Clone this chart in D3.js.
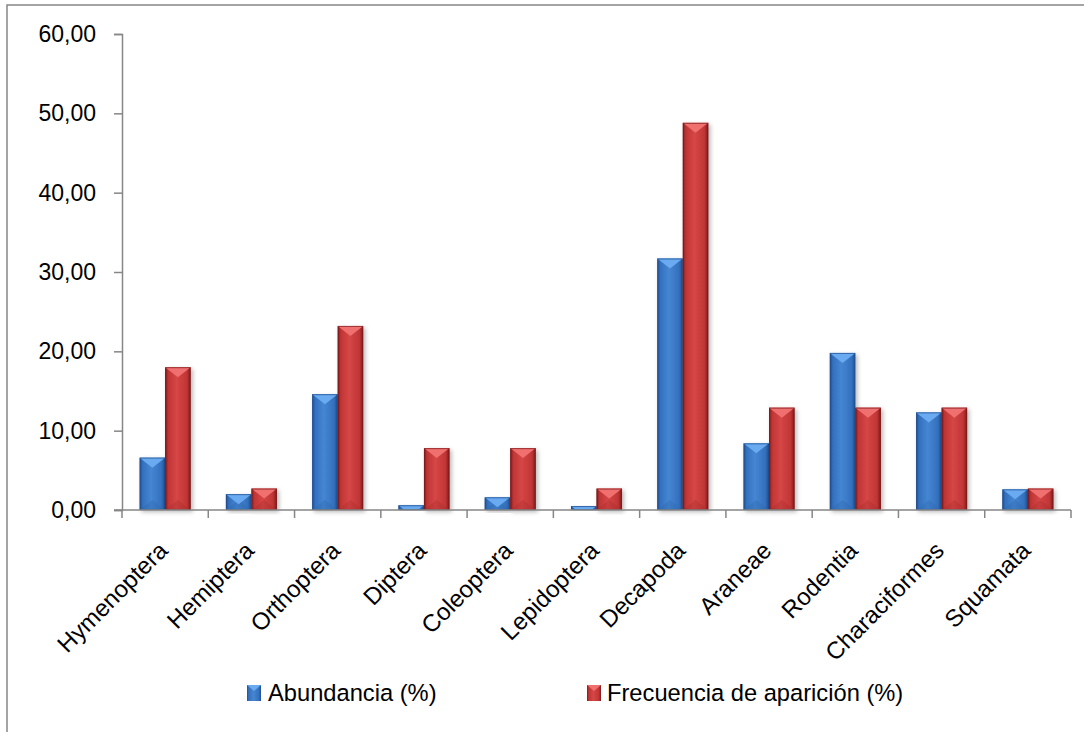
<!DOCTYPE html>
<html>
<head>
<meta charset="utf-8">
<script src="https://cdn.jsdelivr.net/npm/d3@7"></script>
<style>
  html, body { margin: 0; padding: 0; background: #fff; }
  svg { display: block; }
</style>
</head>
<body>
<svg id="chart" width="1084" height="732"></svg>
<script>
const categories = ["Hymenoptera", "Hemiptera", "Orthoptera", "Diptera", "Coleoptera", "Lepidoptera", "Decapoda", "Araneae", "Rodentia", "Characiformes", "Squamata"];
const abundancia = [6.6, 2.0, 14.6, 0.6, 1.6, 0.5, 31.7, 8.4, 19.8, 12.3, 2.6];
const frecuencia = [18.0, 2.7, 23.2, 7.8, 7.8, 2.7, 48.8, 12.9, 12.9, 12.9, 2.7];
const seriesNames = ["Abundancia (%)", "Frecuencia de aparición (%)"];
const yTicks = [0, 10, 20, 30, 40, 50, 60];

const svg = d3.select("#chart");
const W = 1084, H = 732;
const plot = { left: 122, right: 1071, top: 34, bottom: 510 };

const defs = svg.append("defs");
const palettes = [
  { dark: "#1f4f8f", mid: "#3470bd", light: "#4586d3", bevel: "#69aaf0", bottom: "#2f66ad" },
  { dark: "#7a1a1a", mid: "#c03535", light: "#d64646", bevel: "#f07070", bottom: "#a82c2c" }
];
palettes.forEach((p, i) => {
  const g = defs.append("linearGradient").attr("id", "grad" + i)
    .attr("x1", "0%").attr("x2", "100%").attr("y1", "0%").attr("y2", "0%");
  [[0, p.dark], [0.12, p.mid], [0.45, p.light], [0.85, p.mid], [1, p.dark]].forEach(([o, c]) =>
    g.append("stop").attr("offset", o).attr("stop-color", c));
});
const f = defs.append("filter").attr("id", "shadow").attr("x", "-30%").attr("y", "-10%").attr("width", "160%").attr("height", "130%");
f.append("feDropShadow").attr("dx", 2).attr("dy", 2).attr("stdDeviation", 2.2)
  .attr("flood-color", "#000").attr("flood-opacity", 0.28);

// outer frame
svg.append("rect").attr("x", 7).attr("y", 5).attr("width", W + 20).attr("height", H + 20)
  .attr("fill", "none").attr("stroke", "#878787").attr("stroke-width", 1.5);

const x = d3.scaleBand().domain(categories).range([plot.left, plot.right]).padding(0);
const xs = d3.scaleBand().domain([0, 1]).range([0, x.bandwidth()]).paddingInner(0).paddingOuter(0.69);
const y = d3.scaleLinear().domain([0, 60]).range([plot.bottom, plot.top]);

// y axis
const yAxis = d3.axisLeft(y).tickValues(yTicks).tickSize(8).tickPadding(18)
  .tickFormat(d => d3.format(".2f")(d).replace(".", ","));
const gy = svg.append("g").attr("transform", `translate(${plot.left},0)`).call(yAxis);
gy.select(".domain").attr("stroke", "#868686").attr("stroke-width", 1.5);
gy.selectAll(".tick line").attr("stroke", "#868686").attr("stroke-width", 1.5);
gy.selectAll(".tick text").attr("font-family", "'Liberation Sans', Arial, sans-serif")
  .attr("font-size", 23).attr("fill", "#000");

// bars
const rows = categories.map((c, i) => ({ c, vals: [abundancia[i], frecuencia[i]] }));
const gBars = svg.append("g");
rows.forEach(r => {
  r.vals.forEach((v, s) => {
    const bx = x(r.c) + xs(s), bw = xs.bandwidth();
    const by = y(v), bh = y(0) - y(v);
    const p = palettes[s];
    const g = gBars.append("g").attr("filter", "url(#shadow)");
    g.append("rect").attr("x", bx).attr("y", by).attr("width", bw).attr("height", bh)
      .attr("fill", `url(#grad${s})`);
    const t = 10;
    const hb = Math.min(t, bh / 2);
    const kb = hb / t;
    g.append("polygon").attr("points", [
      [bx, by + bh], [bx + bw, by + bh],
      [bx + bw - (bw / 2) * kb, by + bh - hb], [bx + (bw / 2) * kb, by + bh - hb]
    ].map(q => q.join(",")).join(" ")).attr("fill", p.bottom).attr("opacity", 0.35);
    const ht = Math.min(t, bh);
    const k = ht / t;
    g.append("polygon").attr("points", [
      [bx, by], [bx + bw, by],
      [bx + bw - (bw / 2) * k, by + ht], [bx + (bw / 2) * k, by + ht]
    ].map(q => q.join(",")).join(" ")).attr("fill", p.bevel);
    g.append("rect").attr("x", bx + 0.5).attr("y", by + 0.5).attr("width", Math.max(0, bw - 1)).attr("height", Math.max(0, bh - 1))
      .attr("fill", "none").attr("stroke", p.dark).attr("stroke-width", 1).attr("opacity", 0.7);
  });
});

// x axis
const gx = svg.append("g").attr("transform", `translate(0,${plot.bottom})`);
gx.append("line").attr("x1", plot.left - 8).attr("x2", plot.right).attr("y1", 0).attr("y2", 0)
  .attr("stroke", "#868686").attr("stroke-width", 1.5);
const boundaries = categories.map(c => x(c)).concat([plot.right]);
gx.selectAll("line.tk").data(boundaries).enter().append("line").attr("class", "tk")
  .attr("x1", d => d).attr("x2", d => d).attr("y1", 0).attr("y2", 8)
  .attr("stroke", "#868686").attr("stroke-width", 1.5);
gx.selectAll("text").data(categories).enter().append("text")
  .attr("transform", d => `translate(${x(d) + x.bandwidth() / 2 + 4},${42}) rotate(-45)`)
  .attr("text-anchor", "end")
  .attr("font-family", "'Liberation Sans', Arial, sans-serif")
  .attr("font-size", 24).attr("fill", "#000")
  .text(d => d);

// legend
const legendItems = [
  { name: seriesNames[0], sx: 247, tx: 268, s: 0 },
  { name: seriesNames[1], sx: 587, tx: 607, s: 1 }
];
const gl = svg.append("g");
legendItems.forEach(it => {
  const p = palettes[it.s];
  const lx = it.sx, ly = 685, lw = 14, lh = 16;
  gl.append("rect").attr("x", lx).attr("y", ly).attr("width", lw).attr("height", lh).attr("fill", `url(#grad${it.s})`);
  gl.append("polygon").attr("points", [[lx, ly], [lx + lw, ly], [lx + lw / 2, ly + 6]].map(q => q.join(",")).join(" "))
    .attr("fill", p.bevel);
  gl.append("text").attr("x", it.tx).attr("y", 701)
    .attr("font-family", "'Liberation Sans', Arial, sans-serif")
    .attr("font-size", 23.7).attr("fill", "#000")
    .text(it.name);
});
</script>
</body>
</html>
